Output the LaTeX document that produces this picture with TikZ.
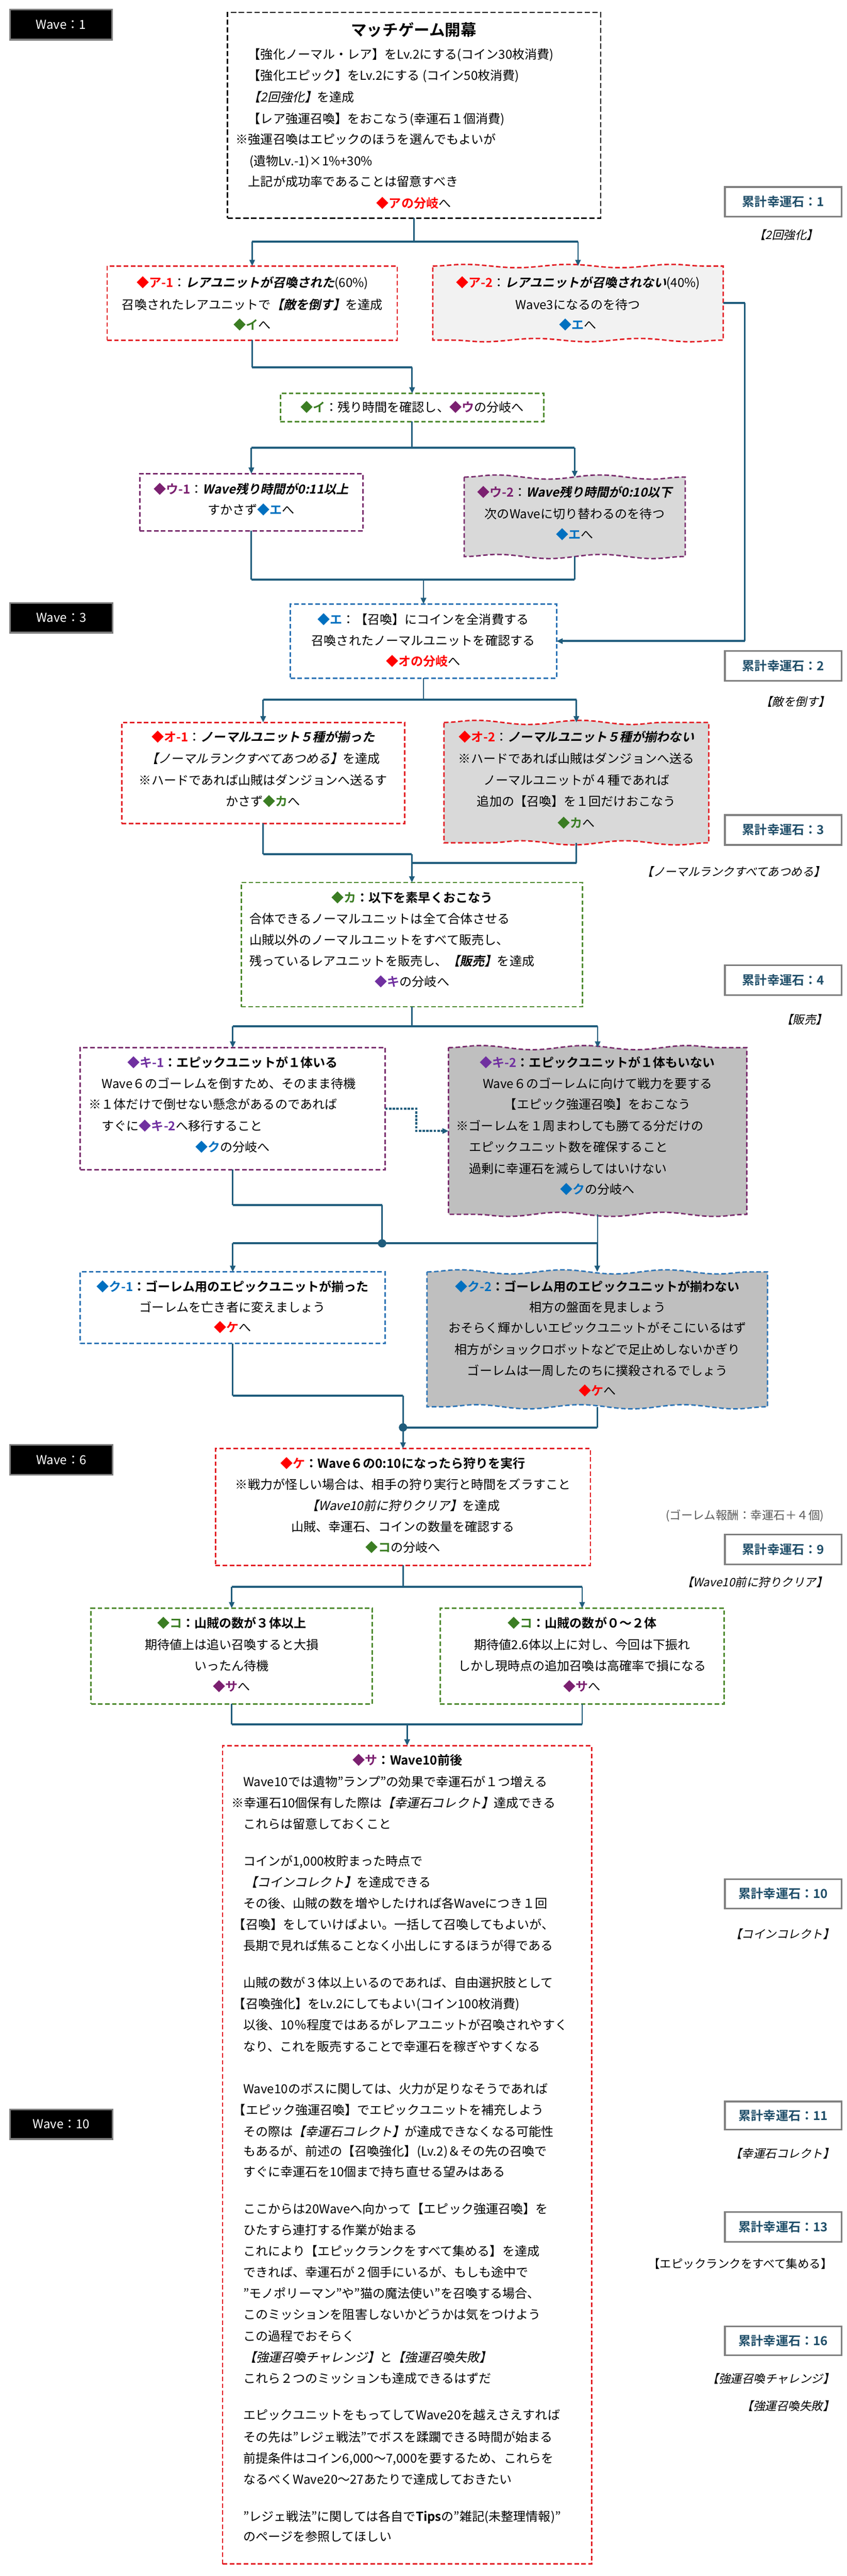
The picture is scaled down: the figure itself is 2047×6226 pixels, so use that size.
\documentclass[tikz,border=0pt]{standalone}
\usepackage{fontspec}
\setmainfont{Noto Sans CJK JP}[BoldFont={Noto Sans CJK JP Bold},ItalicFont={Noto Sans CJK JP},ItalicFeatures={FakeSlant=0.22},BoldItalicFont={Noto Sans CJK JP Bold},BoldItalicFeatures={FakeSlant=0.22}]
\usetikzlibrary{arrows.meta,decorations.pathmorphing}
\definecolor{cRed}{HTML}{FF0000}
\definecolor{cGrn}{HTML}{3B7D23}
\definecolor{cPur}{HTML}{7B2070}
\definecolor{cVio}{HTML}{7030A0}
\definecolor{cBlu}{HTML}{0070C0}
\definecolor{bRed}{HTML}{E31E24}
\definecolor{bGrn}{HTML}{4E8A2E}
\definecolor{bPur}{HTML}{7A2E6E}
\definecolor{bBlu}{HTML}{2E75B6}
\definecolor{lnk}{HTML}{1F5C7C}
\definecolor{totc}{HTML}{1F4E69}
\definecolor{gA}{HTML}{F2F2F2}
\definecolor{gB}{HTML}{D9D9D9}
\definecolor{gC}{HTML}{BFBFBF}
\definecolor{gBord}{HTML}{7F7F7F}
\definecolor{noteg}{HTML}{595959}
\newcommand\fsM{\fontsize{30}{36}\selectfont}
\newcommand\fsS{\fontsize{28}{34}\selectfont}
\newcommand\dmd[2]{\textcolor{#1}{◆\textbf{#2}}}
\newcommand\bi[1]{\textbf{\textit{#1}}}
\newcommand\bx[6]{\node[#6, inner sep=0pt, outer sep=0pt, anchor=north west, minimum width={#4-#2}, minimum height={#5-#3}] (#1) at (#2,#3) {};}
\newcommand\wv[8]{\bx{#1}{#2}{#3}{#4}{#5}{plain}
 \path[draw=#7, fill=#6, bdash, decoration={snake,amplitude=#8,segment length=250pt}] (#1.north west) decorate {-- (#1.north east)} -- (#1.south east) decorate {-- (#1.south west)} -- cycle;}
\newcommand\Lw[4]{\node[txl] (#1) at (#2,#3) {#4};}
\newcommand\Lc[4]{\node[tx] (#1) at (#2,#3) {#4};}
\tikzset{
 bdash/.style={line width=3.5pt, dash pattern=on 11pt off 6pt},
 boxR/.style={draw=bRed, fill=white, bdash},
 boxG/.style={draw=bGrn, fill=white, bdash},
 boxP/.style={draw=bPur, fill=white, bdash},
 boxB/.style={draw=bBlu, fill=white, bdash},
 boxK/.style={draw=black, fill=white, line width=3.5pt, dash pattern=on 13pt off 6pt},
 plain/.style={draw=none},
 wavelbl/.style={fill=black, draw=gBord, line width=4pt},
 totbox/.style={fill=white, draw=gBord, line width=4pt},
 tx/.style={inner sep=0pt, outer sep=0pt, font=\fsM, text height=26pt, text depth=4pt},
 txl/.style={tx, anchor=west},
 totx/.style={tx, text=totc, font=\fsM\bfseries},
 lbl/.style={inner sep=0pt, outer sep=0pt, font=\fsS, text height=24pt, text depth=4pt},
 ln/.style={draw=lnk, line width=3.5pt},
 lnT/.style={draw=lnk, line width=5pt},
 lnD/.style={draw=lnk, line width=5pt, dash pattern=on 6pt off 3pt},
 arr/.style={-{Triangle[length=15pt,width=13pt]}},
 jdot/.style={circle, fill=lnk, inner sep=0pt, minimum size=20pt},
}
\begin{document}
\begin{tikzpicture}[x=1pt,y=-1pt]
\useasboundingbox (0,0) rectangle (2047,6226);
\fill[white] (0,0) rectangle (2047,6226);

% ---------- wave labels ----------
\bx{w1}{24}{23}{271}{96}{wavelbl}
\node[tx,text=white] (w1t) at (w1.center) {Wave：1};
\bx{w3}{24}{1457}{272}{1529}{wavelbl}
\node[tx,text=white] (w3t) at (w3.center) {Wave：3};
\bx{w6}{24}{3492}{272}{3564}{wavelbl}
\node[tx,text=white] (w6t) at (w6.center) {Wave：6};
\bx{w10}{24}{5098}{272}{5170}{wavelbl}
\node[tx,text=white] (w10t) at (w10.center) {Wave：10};

% ---------- totals on the right ----------
\bx{s1}{1752}{452}{2034}{524}{totbox}
\node[totx] (s1t) at (s1.center) {累計幸運石：1};
\node[lbl] (s1l) at (1900,568) {\textit{【2回強化】}};
\bx{s2}{1752}{1573}{2034}{1646}{totbox}
\node[totx] (s2t) at (s2.center) {累計幸運石：2};
\node[lbl] (s2l) at (1922,1696) {\textit{【敵を倒す】}};
\bx{s3}{1752}{1970}{2034}{2042}{totbox}
\node[totx] (s3t) at (s3.center) {累計幸運石：3};
\node[lbl,anchor=east] (s3l) at (1995,2107) {\textit{【ノーマルランクすべてあつめる】}};
\bx{s4}{1752}{2333}{2034}{2405}{totbox}
\node[totx] (s4t) at (s4.center) {累計幸運石：4};
\node[lbl] (s4l) at (1944,2465) {\textit{【販売】}};
\node[lbl,text=noteg] (s9n) at (1800,3663) {(ゴーレム報酬：幸運石＋４個)};
\bx{s9}{1752}{3709}{2034}{3781}{totbox}
\node[totx] (s9t) at (s9.center) {累計幸運石：9};
\node[lbl] (s9l) at (1824,3825) {\textit{【Wave10前に狩りクリア】}};
\bx{s10}{1752}{4542}{2034}{4613}{totbox}
\node[totx] (s10t) at (s10.center) {累計幸運石：10};
\node[lbl,anchor=east] (s10l) at (2017,4675) {\textit{【コインコレクト】}};
\bx{s11}{1752}{5079}{2034}{5147}{totbox}
\node[totx] (s11t) at (s11.center) {累計幸運石：11};
\node[lbl,anchor=east] (s11l) at (2017,5205) {\textit{【幸運石コレクト】}};
\bx{s13}{1752}{5346}{2034}{5418}{totbox}
\node[totx] (s13t) at (s13.center) {累計幸運石：13};
\node[lbl,anchor=east] (s13l) at (2012,5472) {【エピックランクをすべて集める】};
\bx{s16}{1752}{5623}{2034}{5692}{totbox}
\node[totx] (s16t) at (s16.center) {累計幸運石：16};
\node[lbl,anchor=east] (s16l) at (2017,5749) {\textit{【強運召喚チャレンジ】}};
\node[lbl,anchor=east] (s16m) at (2017,5815) {\textit{【強運召喚失敗】}};

% ---------- boxes ----------
\bx{b0}{550}{30}{1452}{527}{boxK}
\bx{a1}{259}{643}{960}{822}{boxR}
\wv{a2}{1046}{643}{1748}{822}{gA}{bRed}{4pt}
\bx{i1}{678}{951}{1314}{1019}{boxG}
\bx{u1}{338}{1145}{877}{1283}{boxP}
\wv{u2}{1122}{1153}{1656}{1345}{gB}{bPur}{5pt}
\bx{e1}{702}{1460}{1345}{1639}{boxB}
\bx{o1}{294}{1746}{978}{1990}{boxR}
\wv{o2}{1073}{1746}{1713}{2037}{gB}{bRed}{5pt}
\bx{k1}{583}{2133}{1408}{2433}{boxG}
\bx{q1}{194}{2532}{931}{2827}{boxP}
\wv{q2}{1084}{2532}{1805}{2935}{gC}{bPur}{5pt}
\bx{c1}{194}{3074}{931}{3247}{boxB}
\wv{c2}{1032}{3074}{1855}{3400}{gC}{bBlu}{5pt}
\bx{h1}{521}{3501}{1427}{3783}{boxR}
\bx{m1}{220}{3887}{900}{4118}{boxG}
\bx{m2}{1064}{3887}{1750}{4118}{boxG}
\bx{sa}{538}{4219}{1430}{6197}{boxR}

% ---------- texts: top box ----------
\node[tx, font=\fontsize{38}{44}\selectfont\bfseries, text height=33pt, text depth=5pt] (t00) at (1000,72) {マッチゲーム開幕};
\Lw{t01}{600}{131}{【強化ノーマル・レア】をLv.2にする(コイン30枚消費)}
\Lw{t02}{600}{183}{【強化エピック】をLv.2にする (コイン50枚消費)}
\Lw{t03}{600}{235}{\textit{【2回強化】}を達成}
\Lw{t04}{600}{287}{【レア強運召喚】をおこなう(幸運石１個消費)}
\Lw{t05}{570}{337}{※強運召喚はエピックのほうを選んでもよいが}
\Lw{t06}{603}{389}{(遺物Lv.-1)×1\%+30\%}
\Lw{t07}{600}{439}{上記が成功率であることは留意すべき}
\Lc{t08}{1000}{491}{\dmd{cRed}{アの分岐}へ}

% ア
\Lc{ta1}{610}{683}{\dmd{cRed}{ア-1}：\bi{レアユニットが召喚された}(60\%)}
\Lc{ta2}{610}{737}{召喚されたレアユニットで\bi{【敵を倒す】}を達成}
\Lc{ta3}{610}{785}{\dmd{cGrn}{イ}へ}
\Lc{tb1}{1397}{683}{\dmd{cRed}{ア-2}：\bi{レアユニットが召喚されない}(40\%)}
\Lc{tb2}{1397}{737}{Wave3になるのを待つ}
\Lc{tb3}{1397}{785}{\dmd{cBlu}{エ}へ}
% イ
\Lc{ti1}{996}{985}{\dmd{cGrn}{イ}：残り時間を確認し、\dmd{cPur}{ウ}の分岐へ}
% ウ
\Lc{tu1}{607}{1182}{\dmd{cPur}{ウ-1}：\bi{Wave残り時間が0:11以上}}
\Lc{tu2}{607}{1232}{すかさず\dmd{cBlu}{エ}へ}
\Lc{tv1}{1389}{1190}{\dmd{cPur}{ウ-2}：\bi{Wave残り時間が0:10以下}}
\Lc{tv2}{1389}{1242}{次のWaveに切り替わるのを待つ}
\Lc{tv3}{1389}{1292}{\dmd{cBlu}{エ}へ}
% エ
\Lc{te1}{1023}{1497}{\dmd{cBlu}{エ}：【召喚】にコインを全消費する}
\Lc{te2}{1023}{1548}{召喚されたノーマルユニットを確認する}
\Lc{te3}{1023}{1599}{\dmd{cRed}{オの分岐}へ}
% オ
\Lc{to1}{636}{1782}{\dmd{cRed}{オ-1}：\bi{ノーマルユニット５種が揃った}}
\Lc{to2}{636}{1834}{\textit{【ノーマルランクすべてあつめる】}を達成}
\Lc{to3}{636}{1886}{※ハードであれば山賊はダンジョンへ送るす}
\Lc{to4}{636}{1937}{かさず\dmd{cGrn}{カ}へ}
\Lc{tp1}{1393}{1782}{\dmd{cRed}{オ-2}：\bi{ノーマルユニット５種が揃わない}}
\Lc{tp2}{1393}{1834}{※ハードであれば山賊はダンジョンへ送る}
\Lc{tp3}{1393}{1886}{ノーマルユニットが４種であれば}
\Lc{tp4}{1393}{1937}{追加の【召喚】を１回だけおこなう}
\Lc{tp5}{1393}{1989}{\dmd{cGrn}{カ}へ}
% カ
\Lc{tk1}{996}{2170}{\textbf{\dmd{cGrn}{カ}：以下を素早くおこなう}}
\Lw{tk2}{603}{2221}{合体できるノーマルユニットは全て合体させる}
\Lw{tk3}{603}{2272}{山賊以外のノーマルユニットをすべて販売し、}
\Lw{tk4}{603}{2323}{残っているレアユニットを販売し、\bi{【販売】}を達成}
\Lc{tk5}{996}{2373}{\dmd{cVio}{キ}の分岐へ}
% キ
\Lc{tq1}{562}{2569}{\textbf{\dmd{cVio}{キ-1}：エピックユニットが１体いる}}
\Lw{tq2}{246}{2619}{Wave６のゴーレムを倒すため、そのまま待機}
\Lw{tq3}{215}{2669}{※１体だけで倒せない懸念があるのであれば}
\Lw{tq4}{246}{2721}{すぐに\dmd{cVio}{キ-2}へ移行すること}
\Lc{tq5}{562}{2773}{\dmd{cBlu}{ク}の分岐へ}
\Lc{tr1}{1444}{2569}{\textbf{\dmd{cVio}{キ-2}：エピックユニットが１体もいない}}
\Lc{tr2}{1444}{2619}{Wave６のゴーレムに向けて戦力を要する}
\Lc{tr3}{1444}{2669}{【エピック強運召喚】をおこなう}
\Lw{tr4}{1103}{2721}{※ゴーレムを１周まわしても勝てる分だけの}
\Lw{tr5}{1134}{2773}{エピックユニット数を確保すること}
\Lw{tr6}{1134}{2825}{過剰に幸運石を減らしてはいけない}
\Lc{tr7}{1444}{2875}{\dmd{cBlu}{ク}の分岐へ}
% ク
\Lc{tc1}{562}{3110}{\textbf{\dmd{cBlu}{ク-1}：ゴーレム用のエピックユニットが揃った}}
\Lc{tc2}{562}{3160}{ゴーレムを亡き者に変えましょう}
\Lc{tc3}{562}{3209}{\dmd{cRed}{ケ}へ}
\Lc{td1}{1444}{3110}{\textbf{\dmd{cBlu}{ク-2}：ゴーレム用のエピックユニットが揃わない}}
\Lc{td2}{1444}{3160}{相方の盤面を見ましょう}
\Lc{td3}{1444}{3210}{おそらく輝かしいエピックユニットがそこにいるはず}
\Lc{td4}{1444}{3262}{相方がショックロボットなどで足止めしないかぎり}
\Lc{td5}{1444}{3313}{ゴーレムは一周したのちに撲殺されるでしょう}
\Lc{td6}{1444}{3362}{\dmd{cRed}{ケ}へ}
% ケ
\Lc{th1}{974}{3537}{\textbf{\dmd{cRed}{ケ}：Wave６の0:10になったら狩りを実行}}
\Lc{th2}{974}{3588}{※戦力が怪しい場合は、相手の狩り実行と時間をズラすこと}
\Lc{th3}{974}{3639}{\textit{【Wave10前に狩りクリア】}を達成}
\Lc{th4}{974}{3690}{山賊、幸運石、コインの数量を確認する}
\Lc{th5}{974}{3740}{\dmd{cGrn}{コ}の分岐へ}
% コ
\Lc{tm1}{560}{3923}{\textbf{\dmd{cGrn}{コ}：山賊の数が３体以上}}
\Lc{tm2}{560}{3975}{期待値上は追い召喚すると大損}
\Lc{tm3}{560}{4026}{いったん待機}
\Lc{tm4}{560}{4076}{\dmd{cPur}{サ}へ}
\Lc{tn1}{1407}{3923}{\textbf{\dmd{cGrn}{コ}：山賊の数が０～２体}}
\Lc{tn2}{1407}{3975}{期待値2.6体以上に対し、今回は下振れ}
\Lc{tn3}{1407}{4026}{しかし現時点の追加召喚は高確率で損になる}
\Lc{tn4}{1407}{4076}{\dmd{cPur}{サ}へ}
% サ
\Lc{ts00}{985}{4255}{\textbf{\dmd{cPur}{サ}：Wave10前後}}
\Lw{ts01}{588}{4307}{Wave10では遺物"ランプ"の効果で幸運石が１つ増える}
\Lw{ts02}{560}{4358}{※幸運石10個保有した際は\textit{【幸運石コレクト】}達成できる}
\Lw{ts03}{588}{4409}{これらは留意しておくこと}
\Lw{ts04}{588}{4499}{コインが1,000枚貯まった時点で}
\Lw{ts05}{592}{4550}{\textit{【コインコレクト】}を達成できる}
\Lw{ts06}{588}{4600}{その後、山賊の数を増やしたければ各Waveにつき１回}
\Lw{ts07}{564}{4652}{【召喚】をしていけばよい。一括して召喚してもよいが、}
\Lw{ts08}{588}{4703}{長期で見れば焦ることなく小出しにするほうが得である}
\Lw{ts09}{588}{4792}{山賊の数が３体以上いるのであれば、自由選択肢として}
\Lw{ts10}{564}{4843}{【召喚強化】をLv.2にしてもよい(コイン100枚消費)}
\Lw{ts11}{588}{4895}{以後、10％程度ではあるがレアユニットが召喚されやすく}
\Lw{ts12}{588}{4947}{なり、これを販売することで幸運石を稼ぎやすくなる}
\Lw{ts13}{588}{5049}{Wave10のボスに関しては、火力が足りなそうであれば}
\Lw{ts14}{564}{5100}{【エピック強運召喚】でエピックユニットを補充しよう}
\Lw{ts15}{588}{5152}{その際は\textit{【幸運石コレクト】}が達成できなくなる可能性}
\Lw{ts16}{588}{5200}{もあるが、前述の【召喚強化】(Lv.2)＆その先の召喚で}
\Lw{ts17}{588}{5249}{すぐに幸運石を10個まで持ち直せる望みはある}
\Lw{ts18}{588}{5339}{ここからは20Waveへ向かって【エピック強運召喚】を}
\Lw{ts19}{588}{5390}{ひたすら連打する作業が始まる}
\Lw{ts20}{588}{5441}{これにより【エピックランクをすべて集める】を達成}
\Lw{ts21}{588}{5492}{できれば、幸運石が２個手にいるが、もしも途中で}
\Lw{ts22}{588}{5543}{"モノポリーマン"や"猫の魔法使い"を召喚する場合、}
\Lw{ts23}{588}{5594}{このミッションを阻害しないかどうかは気をつけよう}
\Lw{ts24}{588}{5646}{この過程でおそらく}
\Lw{ts25}{589}{5698}{\textit{【強運召喚チャレンジ】}と\textit{【強運召喚失敗】}}
\Lw{ts26}{588}{5749}{これら２つのミッションも達成できるはずだ}
\Lw{ts27}{588}{5837}{エピックユニットをもってしてWave20を越えさえすれば}
\Lw{ts28}{588}{5890}{その先は"レジェ戦法"でボスを蹂躙できる時間が始まる}
\Lw{ts29}{588}{5942}{前提条件はコイン6,000～7,000を要するため、これらを}
\Lw{ts30}{588}{5993}{なるべくWave20～27あたりで達成しておきたい}
\Lw{ts31}{588}{6082}{"レジェ戦法"に関しては各自で\textbf{Tips}の"雑記(未整理情報)"}
\Lw{ts32}{588}{6131}{のページを参照してほしい}

% ---------- connectors ----------
% start -> ア
\draw[ln] (b0.south) -- ++(0,57) coordinate (j1);
\draw[lnT] (j1 -| a1.north) -- (j1 -| a2.north);
\draw[ln,arr] (j1 -| a1.north) -- (a1.north);
\draw[ln,arr] (j1 -| a2.north) -- (a2.north);
% ア-1 -> イ
\draw[ln] (a1.south) -- ++(0,66) coordinate (j2);
\draw[lnT] (j2) -- (j2 -| i1.north);
\draw[ln,arr] (j2 -| i1.north) -- (i1.north);
% ア-2 -> エ
\draw[lnT] (a2.east) -- ++(52,0) coordinate (j3);
\draw[ln] (j3) -- (j3 |- e1.east);
\draw[lnT,arr] (j3 |- e1.east) -- (e1.east);
% イ -> ウ
\draw[ln] (i1.south) -- ++(0,63) coordinate (j4);
\draw[lnT] (j4 -| u1.north) -- (j4 -| u2.north);
\draw[ln,arr] (j4 -| u1.north) -- (u1.north);
\draw[ln,arr] (j4 -| u2.north) -- (u2.north);
% ウ -> エ
\draw[ln] (u1.south) -- ++(0,118) coordinate (j5);
\draw[ln] (u2.south) -- (u2.south |- j5);
\draw[lnT] (j5) -- (u2.south |- j5);
\draw[ln,arr] (j5 -| e1.north) -- (e1.north);
% エ -> オ
\draw[ln] (e1.south) -- ++(0,52) coordinate (j6);
\draw[lnT] (j6 -| o1.north) -- (j6 -| o2.north);
\draw[ln,arr] (j6 -| o1.north) -- (o1.north);
\draw[ln,arr] (j6 -| o2.north) -- (o2.north);
% オ -> カ
\draw[ln] (o1.south) -- ++(0,74) coordinate (j7);
\draw[lnT] (j7) -- (j7 -| k1.north);
\draw[ln] (o2.south) -- ++(0,49) coordinate (j8);
\draw[lnT] (j8) -- (j8 -| k1.north);
\draw[ln] (j7 -| k1.north) -- (j8 -| k1.north);
\draw[ln,arr] (j8 -| k1.north) -- (k1.north);
% カ -> キ
\draw[ln] (k1.south) -- ++(0,48) coordinate (j9);
\draw[lnT] (j9 -| q1.north) -- (j9 -| q2.north);
\draw[ln,arr] (j9 -| q1.north) -- (q1.north);
\draw[ln,arr] (j9 -| q2.north) -- (q2.north);
% キ-1 -> キ-2 dashed
\draw[lnD,arr] (q1.east) -- ++(75,0) |- (q2.west);
% キ -> ク
\draw[ln] (q1.south) -- ++(0,85) coordinate (j11);
\draw[lnT] (j11) -- ++(361,0) coordinate (j12);
\draw[ln] (j12) -- ++(0,93) coordinate (j13);
\draw[ln] (q2.south) -- (q2.south |- j13);
\draw[lnT] (j13 -| c1.north) -- (j13 -| c2.north);
\draw[ln,arr] (j13 -| c1.north) -- (c1.north);
\draw[ln,arr] (j13 -| c2.north) -- (c2.north);
\node[jdot] (jd1) at (j13) {};
% ク -> ケ
\draw[ln] (c1.south) -- ++(0,126) coordinate (j14);
\draw[lnT] (j14) -- (j14 -| h1.north);
\draw[ln] (c2.south) -- ++(0,50) coordinate (j15);
\draw[lnT] (j15) -- (j15 -| h1.north);
\draw[ln,arr] (j14 -| h1.north) -- (h1.north);
\node[jdot] (jd2) at (j15 -| h1.north) {};
% ケ -> コ
\draw[ln] (h1.south) -- ++(0,52) coordinate (j16);
\draw[lnT] (j16 -| m1.north) -- (j16 -| m2.north);
\draw[ln,arr] (j16 -| m1.north) -- (m1.north);
\draw[ln,arr] (j16 -| m2.north) -- (m2.north);
% コ -> サ
\draw[ln] (m1.south) -- ++(0,50) coordinate (j17);
\draw[ln] (m2.south) -- (m2.south |- j17);
\draw[lnT] (j17) -- (m2.south |- j17);
\draw[ln,arr] (j17 -| sa.north) -- (sa.north);
\end{tikzpicture}
\end{document}
